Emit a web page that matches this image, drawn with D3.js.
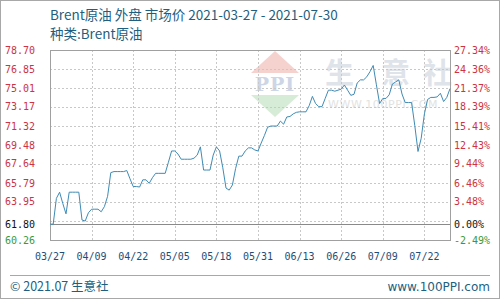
<!DOCTYPE html>
<html>
<head>
<meta charset="utf-8">
<script src="https://cdn.jsdelivr.net/npm/d3@7"></script>
<style>
  body { margin: 0; background: #fff; }
  svg { display: block; }
  .mono { font-family: "DejaVu Sans Mono", monospace; font-size: 10px; }
</style>
</head>
<body>
<div id="chart"></div>
<script>
// --- data ---
const startDate = "2021-03-27";
const endDate = "2021-07-30";
const baseValue = 61.80;
// daily price, 03/27 .. 07/30
const prices = [
  61.80, 61.80, 64.30, 64.90, 63.80, 62.80, 64.90, 64.90, 64.90, 64.90,
  62.20, 62.10, 62.90, 63.25, 63.25, 63.25, 63.00, 63.50, 64.50, 66.80,
  66.90, 66.90, 66.90, 66.90, 67.00, 66.20, 65.45, 65.45, 65.40, 66.10,
  66.10, 65.76, 66.30, 66.73, 66.73, 66.73, 66.73, 67.80, 68.90, 68.90,
  68.60, 68.10, 68.10, 68.10, 68.10, 68.20, 68.50, 69.30, 67.05, 67.05,
  67.05, 68.50, 69.30, 68.90, 67.27, 65.30, 65.10, 65.60, 67.20, 68.40,
  68.40, 68.90, 69.20, 69.20, 69.00, 68.90, 69.67, 70.40, 71.20, 71.32,
  71.32, 71.32, 71.80, 71.50, 72.20, 72.25, 72.50, 72.65, 72.70, 72.70,
  72.70, 73.30, 74.20, 73.50, 73.20, 73.20, 74.00, 74.80, 74.80, 74.70,
  74.80, 74.90, 75.30, 74.80, 74.30, 74.40, 75.50, 75.80, 75.80, 76.10,
  76.60, 77.20, 75.32, 73.50, 74.00, 74.00, 74.35, 75.40, 75.60, 75.80,
  74.43, 73.60, 73.60, 73.60, 71.35, 68.85, 70.13, 72.50, 73.90, 74.10,
  74.10, 74.15, 74.50, 73.70, 74.10, 74.95
];
const xTickLabels = ["03/27", "04/09", "04/22", "05/05", "05/18", "05/31", "06/13", "06/26", "07/09", "07/22"];
const yLeftLabels = ["78.70", "76.85", "75.01", "73.17", "71.32", "69.48", "67.64", "65.79", "63.95", "60.26"];
const yRightLabels = ["27.34%", "24.36%", "21.37%", "18.39%", "15.41%", "12.43%", "9.44%", "6.46%", "3.48%", "-2.49%"];
const titleText = "Brent原油 外盘 市场价 2021-03-27 - 2021-07-30";
const subtitleText = "种类:Brent原油";

const W = 500, H = 300;
const plotL = 50, plotR = 450, plotT = 50, plotB = 240;

const parse = d3.timeParse("%Y-%m-%d");
const t0 = parse(startDate);
const series = prices.map((v, i) => ({ date: d3.timeDay.offset(t0, i), value: v }));

const x = d3.scaleTime().domain([t0, parse(endDate)]).range([plotL, plotR]);
const y = d3.scaleLinear().domain([60.26, 78.70]).range([plotB, plotT]);

const svg = d3.select("#chart").append("svg").attr("width", W).attr("height", H);

// frame
svg.append("rect").attr("x", 0.5).attr("y", 0.5).attr("width", W - 1).attr("height", H - 2)
  .attr("fill", "#fff").attr("stroke", "#a8a8a8");

// titles
svg.append("text").attr("x", 50).attr("y", 20).text(titleText)
  .attr("font-family", "Noto Sans CJK SC, sans-serif").attr("font-size", 13.5).attr("fill", "#1e5f80");
svg.append("text").attr("x", 50).attr("y", 39).text(subtitleText)
  .attr("font-family", "Noto Sans CJK SC, sans-serif").attr("font-size", 13.5).attr("fill", "#1e5f80");

// watermark (logo + site name), behind the grid
const wm = svg.append("g");
wm.append("path").attr("d", "M275,51 L299,73 L251,73 Z").attr("fill", "#f6d2ce");
wm.append("text").attr("x", 275).attr("y", 91).attr("text-anchor", "middle").text("PPI")
  .attr("font-family", "DejaVu Serif, serif").attr("font-weight", "bold").attr("font-size", 19)
  .attr("letter-spacing", 1).attr("fill", "#cdd6e6");
wm.append("path").attr("d", "M251,95 L299,95 L275,117 Z").attr("fill", "#d6ecd6");
const wmChars = ["生", "意", "社"];
const wmX = [325, 381, 423];
wm.selectAll("text.wc").data(wmChars).enter().append("text").attr("class", "wc")
  .attr("x", (d, i) => wmX[i]).attr("y", 84).text(d => d)
  .attr("font-family", "Noto Sans CJK SC, sans-serif").attr("font-size", 29).attr("font-weight", "bold")
  .attr("fill", "#dfe3ea");
wm.append("text").attr("x", 328).attr("y", 108).text("WWW.100PPI.COM")
  .attr("font-family", "DejaVu Sans, sans-serif").attr("font-size", 11).attr("letter-spacing", 0.6)
  .attr("fill", "#e2e2e2");

// grid
const yGrid = yLeftLabels.map(Number).concat([62.10]);
svg.append("g").selectAll("line").data(yGrid).enter().append("line")
  .attr("x1", plotL).attr("x2", plotR)
  .attr("y1", d => Math.round(y(d)) + 0.5).attr("y2", d => Math.round(y(d)) + 0.5)
  .attr("stroke", "#c8c8c8").attr("stroke-dasharray", "2,2");

const xTicks = xTickLabels.map((s, i) => d3.timeDay.offset(t0, i * 13));
svg.append("g").selectAll("line").data(xTicks).enter().append("line")
  .attr("x1", d => Math.round(x(d)) + 0.5).attr("x2", d => Math.round(x(d)) + 0.5)
  .attr("y1", plotT).attr("y2", plotB)
  .attr("stroke", "#c8c8c8").attr("stroke-dasharray", "2,2");

// base line (0%)
svg.append("line").attr("x1", plotL).attr("x2", plotR)
  .attr("y1", Math.round(y(baseValue)) + 0.5).attr("y2", Math.round(y(baseValue)) + 0.5)
  .attr("stroke", "#8a8a8a");

// plot border
svg.append("rect").attr("x", plotL + 0.5).attr("y", plotT + 0.5)
  .attr("width", plotR - plotL).attr("height", plotB - plotT)
  .attr("fill", "none").attr("stroke", "#a0a0a0");

// price line
svg.append("path").datum(series)
  .attr("fill", "none").attr("stroke", "#3f8bb5").attr("stroke-width", 1)
  .attr("d", d3.line().x(d => x(d.date)).y(d => y(d.value)));

// left labels
const leftAll = yLeftLabels.concat([baseValue.toFixed(2)]);
svg.append("g").selectAll("text").data(leftAll).enter().append("text")
  .attr("class", "mono").attr("x", 35).attr("y", d => y(+d) + 3.5)
  .attr("text-anchor", "end").text(d => d)
  .attr("fill", d => +d === baseValue ? "#111" : (+d < baseValue ? "#3a9a3a" : "#cc3344"));

// right labels
const rightAll = yRightLabels.concat(["0.00%"]);
svg.append("g").selectAll("text").data(rightAll).enter().append("text")
  .attr("class", "mono").attr("x", 454)
  .attr("y", (d, i) => (i < yLeftLabels.length ? y(+yLeftLabels[i]) : y(baseValue)) + 3.5)
  .text(d => d)
  .attr("fill", d => parseFloat(d) === 0 ? "#111" : (parseFloat(d) < 0 ? "#3a9a3a" : "#cc3344"));

// x labels
svg.append("g").selectAll("text").data(xTicks).enter().append("text")
  .attr("class", "mono").attr("x", d => x(d)).attr("y", 260)
  .attr("text-anchor", "middle").attr("fill", "#1e4e78")
  .text((d, i) => xTickLabels[i]);

// footer
svg.append("line").attr("x1", 10).attr("x2", 490).attr("y1", 275.5).attr("y2", 275.5).attr("stroke", "#a8a8a8");
svg.append("text").attr("x", 10).attr("y", 291).text("© 2021.07 生意社")
  .attr("font-family", "Noto Sans CJK SC, sans-serif").attr("font-size", 12.5).attr("fill", "#1e5f80");
svg.append("text").attr("x", 490).attr("y", 291).attr("text-anchor", "end").text("www.100PPI.com")
  .attr("font-family", "DejaVu Sans, sans-serif").attr("font-size", 12).attr("fill", "#1e5f80");
</script>
</body>
</html>
